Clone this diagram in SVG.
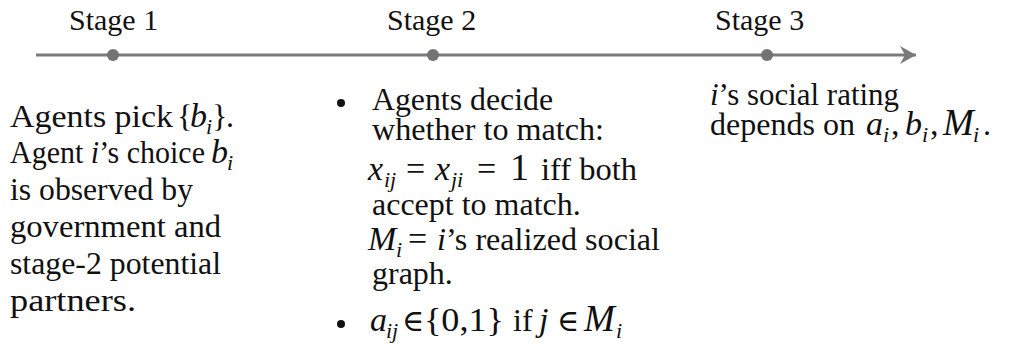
<svg xmlns="http://www.w3.org/2000/svg" width="1011" height="349" viewBox="0 0 1011 349">
<style>
text{font-family:"Liberation Serif","DejaVu Serif",serif;fill:#111;}
.stage{font-size:30px;}
.body{font-size:32px;}
.m{font-style:italic;font-size:34px;}
.mu{font-size:34px;}
.el{font-size:30px;}
.bigm{font-style:italic;font-size:37px;}
.big{font-size:38px;}
.sub{font-style:italic;font-size:22px;}
.it{font-style:italic;}
.tl{stroke:#7a7a7a;stroke-width:3;fill:none;}
.dot{fill:#737373;}
.bul{fill:#111;}
</style>
<defs>
<marker id="ah" markerWidth="18" markerHeight="20" refX="16" refY="10" orient="auto" markerUnits="userSpaceOnUse">
<path d="M0,1 L16,10 L0,19 L5,10 Z" fill="#7a7a7a"/>
</marker>
</defs>
<g id="connectors">
<line class="tl" x1="36" y1="55" x2="916" y2="55" marker-end="url(#ah)"/>
</g>
<g id="stage1">
<circle class="dot" cx="113" cy="55" r="6"/>
<text class="stage" x="69" y="30">Stage 1</text>
<text class="body" x="10" y="127" textLength="163" lengthAdjust="spacingAndGlyphs">Agents pick</text>
<text class="body" x="177" y="127">{</text>
<text class="m" x="190" y="127">b</text>
<text class="sub" x="206" y="134">i</text>
<text class="body" x="212" y="127">}</text>
<text class="body" x="226" y="127">.</text>
<text class="body" x="10" y="163" textLength="195" lengthAdjust="spacingAndGlyphs">Agent <tspan class="it">i</tspan>’s choice</text>
<text class="m" x="211" y="163">b</text>
<text class="sub" x="227" y="170">i</text>
<text class="body" x="10" y="200" textLength="183" lengthAdjust="spacingAndGlyphs">is observed by</text>
<text class="body" x="10" y="237" textLength="211" lengthAdjust="spacingAndGlyphs">government and</text>
<text class="body" x="10" y="274" textLength="211" lengthAdjust="spacingAndGlyphs">stage-2 potential</text>
<text class="body" x="10" y="311" textLength="126" lengthAdjust="spacingAndGlyphs">partners.</text>
</g>
<g id="stage2">
<circle class="dot" cx="433" cy="55" r="6"/>
<text class="stage" x="387" y="30">Stage 2</text>
<circle class="bul" cx="341" cy="103" r="4"/>
<text class="body" x="372" y="110" textLength="181" lengthAdjust="spacingAndGlyphs">Agents decide</text>
<text class="body" x="372" y="140" textLength="232" lengthAdjust="spacingAndGlyphs">whether to match:</text>
<text class="m" x="368" y="180">x</text>
<text class="sub" x="384" y="187">ij</text>
<text class="mu" x="406" y="180">=</text>
<text class="m" x="435" y="180">x</text>
<text class="sub" x="451" y="187">ji</text>
<text class="mu" x="477" y="180">=</text>
<text class="big" x="510" y="180">1</text>
<text class="body" x="541" y="180" textLength="96" lengthAdjust="spacingAndGlyphs">iff both</text>
<text class="body" x="372" y="215">accept to match.</text>
<text class="m" x="368" y="250">M</text>
<text class="sub" x="396" y="257">i</text>
<text class="mu" x="408" y="250">=</text>
<text class="body" x="437" y="250" textLength="223" lengthAdjust="spacingAndGlyphs"><tspan class="it">i</tspan>’s realized social</text>
<text class="body" x="372" y="284">graph.</text>
<circle class="bul" cx="341" cy="324" r="4"/>
<text class="m" x="370" y="331">a</text>
<text class="sub" x="386" y="338">ij</text>
<text class="el" x="402" y="331">∈</text>
<text class="mu" x="424" y="331" textLength="80" lengthAdjust="spacingAndGlyphs">{0,1}</text>
<text class="body" x="513" y="331">if</text>
<text class="m" x="539" y="331">j</text>
<text class="el" x="557" y="331">∈</text>
<text class="bigm" x="584" y="331">M</text>
<text class="sub" x="616" y="338">i</text>
</g>
<g id="stage3">
<circle class="dot" cx="767" cy="55" r="6"/>
<text class="stage" x="715" y="30">Stage 3</text>
<text class="body" x="710" y="105" textLength="189" lengthAdjust="spacingAndGlyphs"><tspan class="it">i</tspan>’s social rating</text>
<text class="body" x="710" y="135" textLength="145" lengthAdjust="spacingAndGlyphs">depends on</text>
<text class="m" x="866" y="135">a</text>
<text class="sub" x="883" y="142">i</text>
<text class="mu" x="891" y="135">,</text>
<text class="m" x="905" y="135">b</text>
<text class="sub" x="922" y="142">i</text>
<text class="mu" x="930" y="135">,</text>
<text class="bigm" x="943" y="135">M</text>
<text class="sub" x="973" y="142">i</text>
<text class="body" x="983" y="135">.</text>
</g>
</svg>
